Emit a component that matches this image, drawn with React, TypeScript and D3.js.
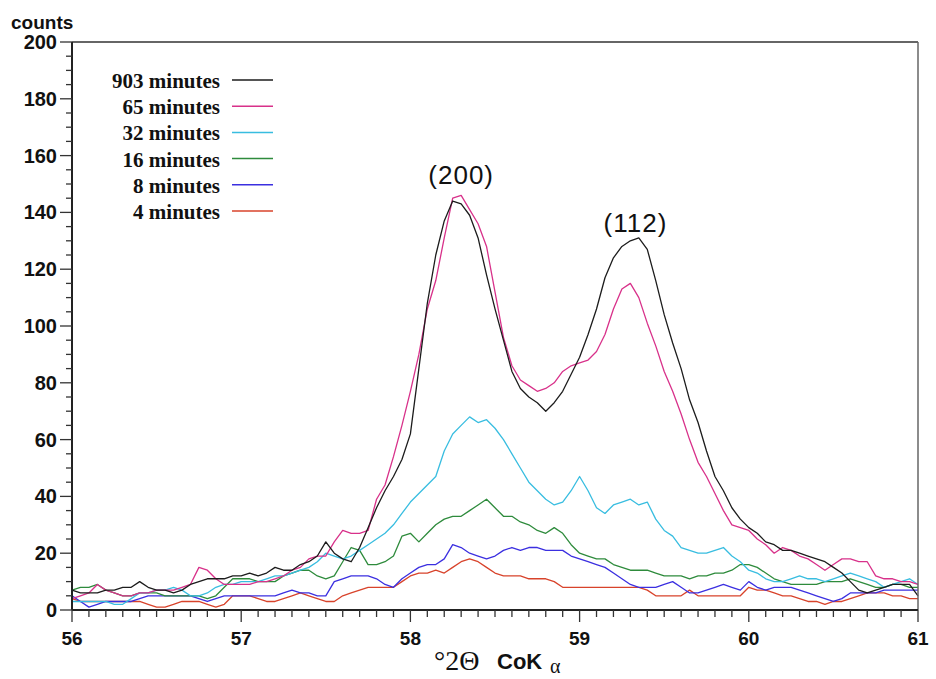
import React from "react";
import * as d3 from "d3";

const X_START = 56;
const X_STEP = 0.05;

const seriesNames = ["903 minutes", "65 minutes", "32 minutes", "16 minutes", "8 minutes", "4 minutes"];
const seriesColors = ["#1c1c1c", "#d8318a", "#38bde0", "#2e8b3c", "#3b2fe0", "#d8432b"];

const min903 = [7,6,6,6,7,7,8,8,10,8,7,7,6,7,9,10,11,11,11,12,12,
  13,12,13,15,14,14,16,17,19,24,20,18,17,22,29,36,42,47,53,62,
  85,108,125,137,144,143,139,131,118,106,95,84,78,75,73,70,73,77,83,89,
  97,106,117,124,128,130,131,127,116,104,94,85,74,66,56,47,42,36,32,29,
  27,24,23,21,21,20,19,18,17,15,13,10,7,6,7,8,9,9,9,5];
const min65 = [4,5,6,9,7,6,5,5,6,6,7,7,7,8,9,15,14,11,9,9,9,
  9,10,10,11,12,14,15,18,19,19,24,28,27,27,28,39,44,54,65,77,
  90,106,116,131,145,146,141,136,128,112,96,86,81,79,77,78,80,84,86,87,
  88,91,97,106,113,115,110,101,93,84,77,69,60,52,47,41,35,30,29,28,
  25,23,20,22,21,19,18,16,14,16,18,18,17,17,12,11,11,10,10,9];
const min32 = [3,3,3,3,3,2,2,4,6,6,7,7,8,7,5,5,6,8,9,9,10,
  10,10,11,12,12,13,14,15,17,20,19,18,19,21,23,25,27,30,34,38,
  41,44,47,56,62,65,68,66,67,64,60,55,50,45,42,39,37,38,42,47,
  42,36,34,37,38,39,37,38,32,28,26,22,21,20,20,21,22,19,17,14,
  13,11,10,10,11,12,11,11,10,11,12,13,12,11,10,8,9,10,11,9];
const min16 = [7,8,8,9,7,6,5,5,6,6,6,5,5,5,5,5,4,5,8,11,11,
  11,10,10,10,12,13,14,14,12,11,12,17,22,21,16,16,17,19,26,27,
  24,27,30,32,33,33,35,37,39,36,33,33,31,30,28,27,29,27,23,20,
  19,18,18,16,15,14,14,14,13,12,12,12,11,12,12,13,13,14,16,16,
  15,13,11,10,9,9,9,9,10,10,10,11,10,9,8,8,9,9,8,8];
const min8 = [5,3,1,2,3,3,3,3,4,5,5,5,5,5,5,4,3,4,5,5,5,
  5,5,5,5,6,7,6,6,5,5,10,11,12,12,12,11,9,8,11,13,
  15,16,16,18,23,22,20,19,18,19,21,22,21,22,22,21,21,21,19,18,
  17,16,15,13,11,9,8,8,8,9,10,8,6,6,7,8,9,8,7,10,
  8,7,8,8,8,7,6,5,4,3,4,6,6,6,6,7,7,7,7,7];
const min4 = [4,3,3,3,3,3,3,3,3,2,1,1,2,3,3,3,2,1,2,5,5,
  5,4,3,3,4,5,6,5,4,3,3,5,6,7,8,8,8,8,10,12,
  13,13,14,13,15,17,18,17,15,13,12,12,12,11,11,11,10,8,8,8,
  8,8,8,8,8,8,8,7,5,5,5,5,7,5,5,5,5,5,5,8,
  7,7,6,5,5,4,3,3,2,3,3,4,5,6,6,6,5,5,4,4];

const seriesValues = [min903, min65, min32, min16, min8, min4];

const xTickLabels = [56, 57, 58, 59, 60, 61];
const yTickLabels = [0, 20, 40, 60, 80, 100, 120, 140, 160, 180, 200];

const peakLabels = ["(200)", "(112)"];
const peakPos = [[58.3, 150], [59.33, 133]];

const W = 936, H = 679;
const L = 72, R = 918, T = 42, B = 610;

export default function App() {
  const x = d3.scaleLinear().domain([56, 61]).range([L, R]);
  const y = d3.scaleLinear().domain([0, 200]).range([B, T]);
  const line = d3.line<number>()
    .x((_, i) => x(X_START + i * X_STEP))
    .y((d) => y(d));

  const xMinor = d3.range(0, 51).map((i) => 56 + i * 0.1);
  const yMinor = d3.range(0, 41).map((i) => i * 5);
  const sans = "'Liberation Sans', Arial, Helvetica, sans-serif";
  const serif = "'Liberation Serif', 'Times New Roman', serif";

  const drawOrder = [5, 4, 3, 2, 1, 0];

  return (
    <svg width={W} height={H} style={{ position: "absolute", left: 0, top: 0, background: "#fff" }}>
      <rect x={0} y={0} width={W} height={H} fill="#fff" />
      <g fill="none" strokeWidth={1.3} strokeLinejoin="round">
        {drawOrder.map((k) => (
          <path key={k} d={line(seriesValues[k]) || ""} stroke={seriesColors[k]} />
        ))}
      </g>
      <line x1={L} x2={R} y1={T} y2={T} stroke="#333" strokeWidth={1.5} />
      <line x1={R} x2={R} y1={T} y2={B} stroke="#666" strokeWidth={1.5} />
      <line x1={L} x2={L} y1={T} y2={B} stroke="#222" strokeWidth={2} />
      <line x1={L} x2={R} y1={B} y2={B} stroke="#222" strokeWidth={2} />
      {xMinor.map((v, i) => (
        <line key={"xt" + i} x1={x(v)} x2={x(v)} y1={B} y2={B + (i % 10 === 0 ? 12 : 7)} stroke="#333" strokeWidth={1.3} />
      ))}
      {xTickLabels.map((v) => (
        <text key={"xl" + v} x={x(v)} y={645} textAnchor="middle" fontFamily={sans} fontWeight="bold" fontSize={19} fill="#111">{v}</text>
      ))}
      {yMinor.map((v, i) => (
        <line key={"yt" + i} x1={L - (i % 4 === 0 ? 12 : 6)} x2={L} y1={y(v)} y2={y(v)} stroke="#333" strokeWidth={1.3} />
      ))}
      {yTickLabels.map((v) => (
        <text key={"yl" + v} x={57} y={y(v) + 7} textAnchor="end" fontFamily={sans} fontWeight="bold" fontSize={20} fill="#111">{v}</text>
      ))}
      <text x={11} y={29} fontFamily={sans} fontWeight="bold" fontSize={19} fill="#111">counts</text>
      {seriesNames.map((n, i) => (
        <g key={"lg" + i}>
          <text x={220} y={88 + i * 26.2} textAnchor="end" fontFamily={serif} fontWeight="bold" fontSize={21} fill="#111">{n}</text>
          <line x1={232} x2={273} y1={80 + i * 26.2} y2={80 + i * 26.2} stroke={seriesColors[i]} strokeWidth={1.5} />
        </g>
      ))}
      {peakLabels.map((t, i) => (
        <text key={"pk" + i} x={x(peakPos[i][0])} y={y(peakPos[i][1])} textAnchor="middle" fontFamily={sans} fontSize={26} letterSpacing={1} fill="#111">{t}</text>
      ))}
      <text x={434} y={670} fontFamily={serif} fontSize={28} fill="#111">°2Θ</text>
      <text x={497} y={669} fontFamily={sans} fontWeight="bold" fontSize={22} fill="#111">CoK</text>
      <text x={550} y={673} fontFamily={serif} fontSize={20} fill="#111">α</text>
    </svg>
  );
}
